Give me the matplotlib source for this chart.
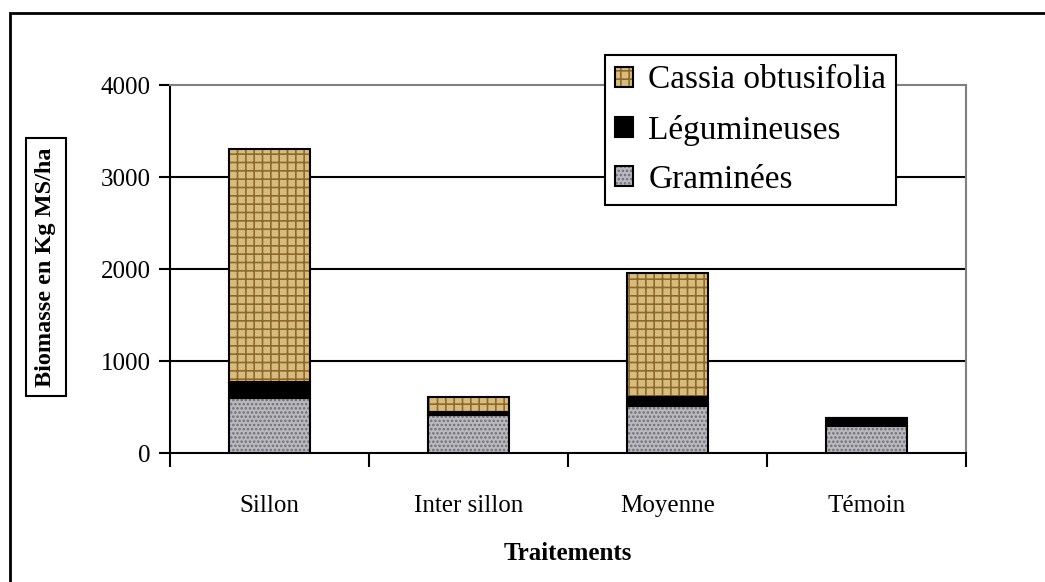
import numpy as np
import matplotlib
matplotlib.use("Agg")
import matplotlib.pyplot as plt
from matplotlib.patches import Patch, Rectangle
from matplotlib.legend_handler import HandlerTuple

# data (kg MS/ha)
categories = ["Sillon", "Inter sillon", "Moyenne", "Témoin"]
graminees = [600, 415, 515, 295]
legumineuses = [175, 30, 95, 85]
cassia = [2530, 165, 1350, 0]
series_labels = ["Graminées", "Légumineuses", "Cassia obtusifolia"]
yticks = [0, 1000, 2000, 3000, 4000]

plt.rcParams["font.family"] = ["Liberation Serif", "DejaVu Serif"]
plt.rcParams["hatch.linewidth"] = 1.2

fig = plt.figure(figsize=(10.45, 5.82), dpi=100)
ax = fig.add_axes([170 / 1045, 1 - 453 / 582, 796 / 1045, 368 / 582])

x = np.arange(len(categories))
w = 0.41

styles = [
    dict(face="#b9b9be", hatch="....", hcol="#6e6e74"),   # graminees
    dict(face="black", hatch=None, hcol=None),             # legumineuses
    dict(face="#d8bc7e", hatch="++", hcol="#8c6a2e"),      # cassia
]

bottom = np.zeros(len(categories))
handles = {}
for vals, st, lab in zip([graminees, legumineuses, cassia], styles, series_labels):
    vals = np.array(vals, dtype=float)
    ax.bar(x, vals, w, bottom=bottom, color=st["face"], edgecolor="none", zorder=3)
    if st["hatch"]:
        ax.bar(x, vals, w, bottom=bottom, fill=False, hatch=st["hatch"],
               edgecolor=st["hcol"], linewidth=0, zorder=4)
    ax.bar(x, vals, w, bottom=bottom, fill=False, edgecolor="black",
           linewidth=1.5, zorder=5)
    bottom += vals
    if st["hatch"]:
        face = Patch(facecolor=st["face"], edgecolor="none")
        hp = Patch(fill=False, hatch=st["hatch"], edgecolor=st["hcol"], linewidth=0)
        edge = Patch(fill=False, edgecolor="black", linewidth=1.5)
        handles[lab] = (face, hp, edge)
    else:
        handles[lab] = (Patch(facecolor=st["face"], edgecolor="black", linewidth=1.5),)

ax.set_xlim(-0.5, len(categories) - 0.5)
ax.set_ylim(0, 4000)
ax.set_yticks(yticks)
ax.set_yticklabels([str(t) for t in yticks], fontsize=18)
ax.set_xticks(x)
ax.set_xticklabels(categories, fontsize=18)
ax.tick_params(axis="x", length=0, pad=30)
# category boundary ticks
ax.set_xticks(np.arange(len(categories) + 1) - 0.5, minor=True)
ax.tick_params(axis="x", which="minor", length=10, width=1.5, direction="out")
ax.tick_params(axis="y", length=8, width=1.5, direction="out", pad=6)

for t in yticks[1:-1]:
    ax.axhline(t, color="black", linewidth=1.5, zorder=1)

ax.spines["left"].set_linewidth(1.5)
ax.spines["bottom"].set_linewidth(1.5)
ax.spines["top"].set_color("#808080")
ax.spines["right"].set_color("#808080")
ax.spines["top"].set_linewidth(1.5)
ax.spines["right"].set_linewidth(1.5)

ax.set_xlabel("Traitements", fontsize=18, fontweight="bold", labelpad=18)
fig.text(46 / 1045, 1 - 267 / 582, "Biomasse en Kg MS/ha", rotation=90,
         fontsize=17.5, fontweight="bold", ha="center", va="center",
         bbox=dict(boxstyle="square,pad=0.4", facecolor="white",
                   edgecolor="black", linewidth=1.5))

order = ["Cassia obtusifolia", "Légumineuses", "Graminées"]
leg = ax.legend([handles[k] for k in order], order,
                handler_map={tuple: HandlerTuple(ndivide=1, pad=0)},
                loc="upper left", bbox_to_anchor=(605 / 1045, 1 - 55 / 582),
                bbox_transform=fig.transFigure, borderaxespad=0,
                fontsize=24, fancybox=False, framealpha=1, edgecolor="black",
                handlelength=0.55, handleheight=0.55, handletextpad=0.45,
                labelspacing=0.57, borderpad=0.3)
leg.get_frame().set_linewidth(1.5)
leg.set_zorder(10)

# figure frame (cropped on the right and bottom)
fig.add_artist(Rectangle((10 / 1045, -0.1), 1.2, 1 - 13 / 582 + 0.1,
                         transform=fig.transFigure, fill=False,
                         edgecolor="black", linewidth=2, clip_on=False))

fig.savefig("out.png", dpi=100)
